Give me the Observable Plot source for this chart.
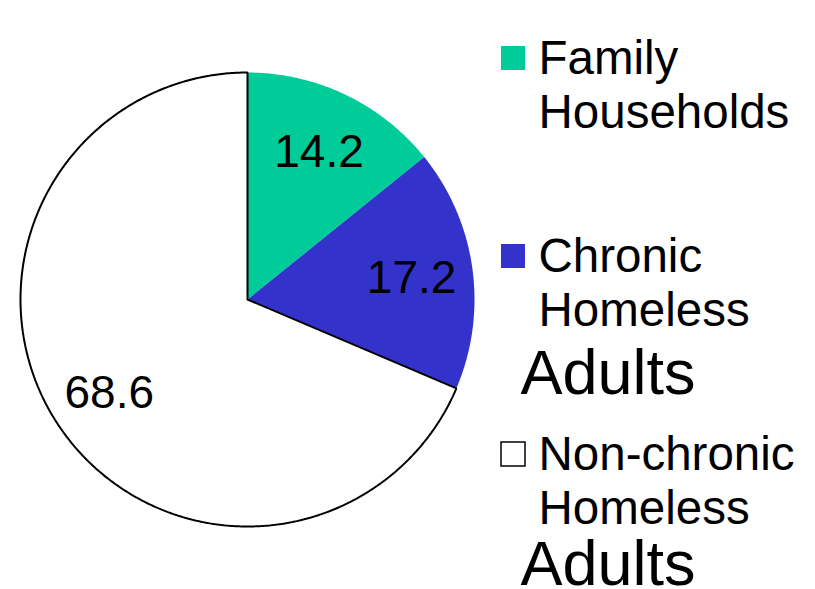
<!DOCTYPE html>
<html><head><meta charset="utf-8">
<script src="https://cdn.jsdelivr.net/npm/d3@7"></script>
<script src="https://cdn.jsdelivr.net/npm/@observablehq/plot@0.6"></script>
<style>html,body{margin:0;padding:0;background:#fff} svg{display:block}</style>
</head><body><div id="chart"></div>
<script>
// ---- data ----
const categories = ["Family Households", "Chronic Homeless Adults", "Non-chronic Homeless Adults"];
const values = [14.2, 17.2, 68.6];
const valueLabels = ["14.2", "17.2", "68.6"];
const legendLines = [["Family", "Households"], ["Chronic", "Homeless"], ["Non-chronic", "Homeless"]];
const legendExtra = ["", "Adults", "Adults"];

// ---- styles / layout ----
const colors = ["#00CC99", "#3333CC", "#FFFFFF"];
const W = 815, H = 589;
const cx = 247, cy = 299, R = 227;
const labelR = 0.73;
const font = "Liberation Sans, Arial, Helvetica, sans-serif";
const legendTop0 = 46, legendStep = 198, sq = 24, sqX = 501, textX = 538, extraX = 520;
const legendFont = 47.5, extraFont = 63;
const extraDy = [0, 68, 61];

const pie = d3.pie().sort(null).value(d => d.value);
const arcs = pie(categories.map((c, i) => ({category: c, value: values[i], i})));

// slice polygons (center + arc samples + center)
function slicePoints(a) {
  const pts = [{x: cx, y: cy, i: a.data.i}];
  const n = Math.max(2, Math.ceil((a.endAngle - a.startAngle) / (Math.PI / 360)));
  for (let k = 0; k <= n; k++) {
    const t = a.startAngle + (a.endAngle - a.startAngle) * k / n;
    pts.push({x: cx + R * Math.sin(t), y: cy - R * Math.cos(t), i: a.data.i});
  }
  pts.push({x: cx, y: cy, i: a.data.i});
  return pts;
}

const labels = arcs.map(a => {
  const m = (a.startAngle + a.endAngle) / 2;
  return {x: cx + R * labelR * Math.sin(m), y: cy - R * labelR * Math.cos(m), text: valueLabels[a.data.i]};
});

const sliceMarks = arcs.map(a => Plot.line(slicePoints(a), {
  x: "x", y: "y", curve: "linear",
  fill: colors[a.data.i],
  stroke: a.data.i === 2 ? "black" : "none",
  strokeWidth: 2, strokeLinejoin: "miter"
}));

const legendRows = categories.map((c, i) => ({i, top: legendTop0 + i * legendStep}));
const legendTextRows = [];
legendRows.forEach(r => {
  legendLines[r.i].forEach((t, j) => legendTextRows.push({x: textX, y: r.top + 27 + j * 54.5, text: t}));
});
const extraRows = legendRows.filter(r => legendExtra[r.i]).map(r => ({x: extraX, y: r.top + 27 + 54.5 + extraDy[r.i], text: legendExtra[r.i]}));

const chart = Plot.plot({
  width: W, height: H,
  margin: 0,
  x: {domain: [0, W], range: [0, W], axis: null},
  y: {domain: [0, H], range: [0, H], axis: null},
  style: {fontFamily: font, background: "white", overflow: "visible"},
  marks: [
    ...sliceMarks,
    Plot.text(labels, {x: "x", y: "y", text: "text", fontSize: 46, fill: "black", textAnchor: "middle", lineAnchor: "middle", dy: 2, fontFamily: font}),
    Plot.rect(legendRows, {
      x1: () => sqX, x2: () => sqX + sq, y1: "top", y2: d => d.top + sq,
      fill: d => colors[d.i], stroke: d => d.i === 2 ? "black" : "none", strokeWidth: 1.5
    }),
    Plot.text(legendTextRows, {x: "x", y: "y", text: "text", fontSize: legendFont, textAnchor: "start", lineAnchor: "bottom", fill: "black", fontFamily: font}),
    Plot.text(extraRows, {x: "x", y: "y", text: "text", fontSize: extraFont, textAnchor: "start", lineAnchor: "bottom", fill: "black", fontFamily: font})
  ]
});
document.getElementById("chart").append(chart);
</script>
</body></html>
